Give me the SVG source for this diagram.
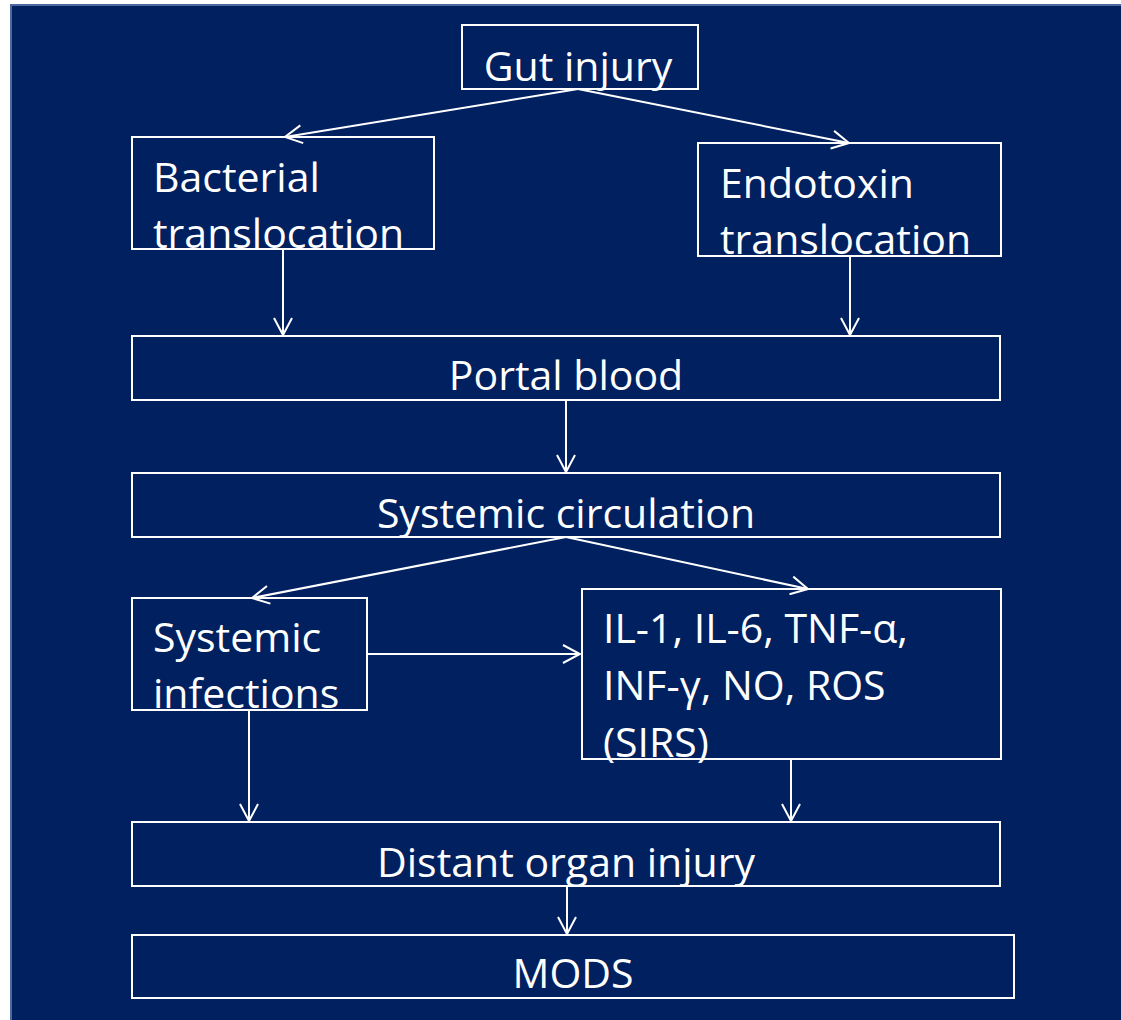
<svg xmlns="http://www.w3.org/2000/svg" width="1121" height="1020" viewBox="0 0 1121 1020">
  <style>
    .box { fill: none; stroke: #ffffff; stroke-width: 2; }
    .t { fill: #ffffff; font-family: "Open Sans", "Noto Sans", "DejaVu Sans", sans-serif; font-size: 41px; }
    .c { text-anchor: middle; }
    .edge { fill: none; stroke: #ffffff; stroke-width: 2; marker-end: url(#arr); }
  </style>
  <defs>
    <marker id="arr" viewBox="0 0 20 20" refX="18" refY="10" markerWidth="20" markerHeight="20" markerUnits="userSpaceOnUse" orient="auto">
      <path d="M1,1 L18,10 L1,19" fill="none" stroke="#ffffff" stroke-width="2"/>
    </marker>
  </defs>
  <rect x="0" y="0" width="1121" height="1020" fill="#ffffff"/>
  <rect x="10" y="4" width="1111" height="1016" fill="#002060"/>
  <path d="M11,1020 L11,5 L1121,5" fill="none" stroke="#4a6aa0" stroke-width="2"/>

  <g id="connectors">
    <path class="edge" d="M578,89 L285,137"/>
    <path class="edge" d="M578,89 L849,143"/>
    <path class="edge" d="M283,249 L283,335"/>
    <path class="edge" d="M850,256 L850,335"/>
    <path class="edge" d="M566,400 L566,472"/>
    <path class="edge" d="M566,537 L252,598"/>
    <path class="edge" d="M566,537 L808,589"/>
    <path class="edge" d="M367,654 L580,654"/>
    <path class="edge" d="M249,710 L249,821"/>
    <path class="edge" d="M791,759 L791,821"/>
    <path class="edge" d="M567,886 L567,934"/>
  </g>

  <g id="gut-injury">
    <rect class="box" x="462" y="25" width="236" height="64"/>
    <text class="t c" x="578" y="81">Gut injury</text>
  </g>
  <g id="bacterial-translocation">
    <rect class="box" x="132" y="137" width="302" height="112"/>
    <text class="t" x="153" y="192">Bacterial</text>
    <text class="t" x="153" y="248">translocation</text>
  </g>
  <g id="endotoxin-translocation">
    <rect class="box" x="698" y="143" width="303" height="113"/>
    <text class="t" x="720" y="198">Endotoxin</text>
    <text class="t" x="720" y="254">translocation</text>
  </g>
  <g id="portal-blood">
    <rect class="box" x="132" y="336" width="868" height="64"/>
    <text class="t c" x="566" y="390">Portal blood</text>
  </g>
  <g id="systemic-circulation">
    <rect class="box" x="132" y="473" width="868" height="64"/>
    <text class="t c" x="566" y="528">Systemic circulation</text>
  </g>
  <g id="systemic-infections">
    <rect class="box" x="132" y="598" width="235" height="112"/>
    <text class="t" x="153" y="652">Systemic</text>
    <text class="t" x="153" y="708">infections</text>
  </g>
  <g id="sirs">
    <rect class="box" x="582" y="589" width="419" height="170"/>
    <text class="t" x="603" y="643">IL-1, IL-6, TNF-α,</text>
    <text class="t" x="603" y="700">INF-γ, NO, ROS</text>
    <text class="t" x="603" y="757">(SIRS)</text>
  </g>
  <g id="distant-organ-injury">
    <rect class="box" x="132" y="822" width="868" height="64"/>
    <text class="t c" x="566" y="877">Distant organ injury</text>
  </g>
  <g id="mods">
    <rect class="box" x="132" y="935" width="882" height="63"/>
    <text class="t c" x="573" y="988">MODS</text>
  </g>
</svg>
